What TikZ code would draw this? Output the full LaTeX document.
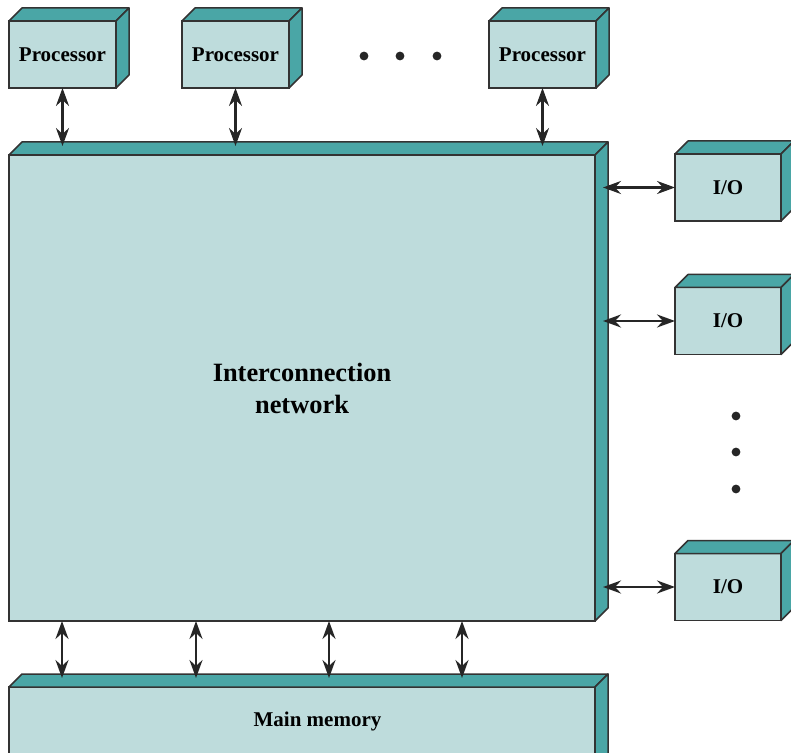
\documentclass[tikz,border=0pt]{standalone}
\usepackage{fontspec}
\setmainfont{Liberation Serif}
\usetikzlibrary{arrows.meta}
\definecolor{facecol}{RGB}{190,220,220}
\definecolor{sidecol}{RGB}{74,166,166}

\begin{document}
\begin{tikzpicture}[x=0.5pt,y=-0.5pt,
  unit/.style={draw=black!80, line width=0.75pt, fill=facecol, inner sep=0pt, outer sep=0pt,
    font=\bfseries\fontsize{10.5}{12}\selectfont},
  side/.style={draw=black!80, line width=0.75pt, fill=sidecol, line join=round},
  link/.style={{Stealth[length=9pt,width=6.5pt,inset=3pt]}-{Stealth[length=9pt,width=6.5pt,inset=3pt]},
    line width=1.3pt, black!85}]

  \path[use as bounding box, clip] (0,0) rectangle (791,753);

  % Processors
  \node[unit, minimum width=53.5pt, minimum height=33.5pt] (p1) at (62.5,54.5) {Processor};
  \node[unit, minimum width=53.5pt, minimum height=33.5pt] (p2) at (235.5,54.5) {Processor};
  \node[unit, minimum width=53.5pt, minimum height=33.5pt] (p3) at (542.5,54.5) {Processor};

  % Interconnection network
  \node[unit, minimum width=293pt, minimum height=233pt, align=center,
    font=\bfseries\fontsize{13.2}{16}\selectfont] (net) at (302,388) {Interconnection\\network};

  % Main memory
  \node[unit, minimum width=293pt, minimum height=45pt,
    label={[shift={(7.75pt,5.5pt)}, font=\bfseries\fontsize{10.5}{12}\selectfont]center:Main memory}]
    (mem) at (302,732) {};

  % I/O modules
  \node[unit, minimum width=53pt, minimum height=33.5pt] (io1) at (728,187.5) {I/O};
  \node[unit, minimum width=53pt, minimum height=33.5pt] (io2) at (728,321) {I/O};
  \node[unit, minimum width=53pt, minimum height=33.5pt] (io3) at (728,587) {I/O};

  % Top and side faces
  \foreach \n in {p1,p2,p3,net,mem,io1,io2,io3} {
    \draw[side] (\n.north west) -- ([shift={(13,-13)}]\n.north west)
      -- ([shift={(13,-13)}]\n.north east) -- (\n.north east) -- cycle;
    \draw[side] (\n.north east) -- ([shift={(13,-13)}]\n.north east)
      -- ([shift={(13,-13)}]\n.south east) -- (\n.south east) -- cycle;
  }

  % Processor links
  \foreach \n in {p1,p2,p3}
    \draw[link, shorten >=4.5pt] (\n.south) -- (\n.south |- net.north);

  % Memory links
  \foreach \x in {53,187,320,453}
    \draw[link, shorten >=4.5pt] ([xshift=\x*0.5pt]net.south west)
      -- ([xshift=\x*0.5pt]net.south west |- mem.north);

  % I/O links
  \foreach \n in {io1,io2,io3}
    \draw[link, shorten >=4pt] (\n.west) -- (\n.west -| net.east);

  % Dots
  \foreach \x in {364,400,437}
    \fill[black!85] (\x,56) circle (2.2pt);
  \foreach \y in {416,452,489}
    \fill[black!85] (736,\y) circle (2.2pt);

\end{tikzpicture}
\end{document}
